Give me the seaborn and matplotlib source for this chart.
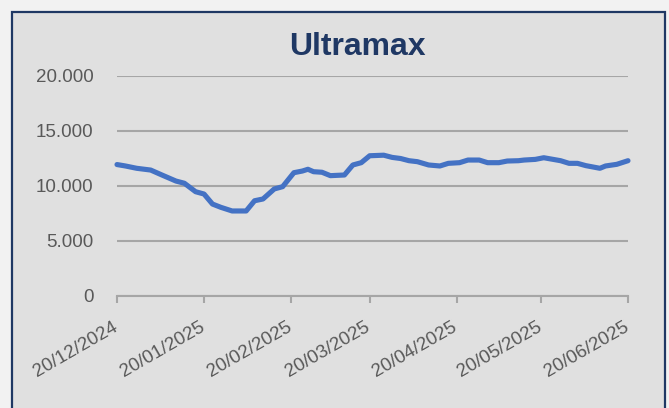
import matplotlib
matplotlib.use("Agg")
import matplotlib.pyplot as plt
from matplotlib.patches import Rectangle
from matplotlib.transforms import ScaledTranslation
import seaborn as sns
import pandas as pd

title = "Ultramax"

dates = [
    "2024-12-20", "2024-12-23", "2024-12-27", "2025-01-01", "2025-01-05",
    "2025-01-10", "2025-01-13", "2025-01-17", "2025-01-20", "2025-01-23",
    "2025-01-26", "2025-01-30", "2025-02-04", "2025-02-07", "2025-02-10",
    "2025-02-14", "2025-02-17", "2025-02-21", "2025-02-24", "2025-02-26",
    "2025-02-28", "2025-03-03", "2025-03-06", "2025-03-11", "2025-03-14",
    "2025-03-17", "2025-03-20", "2025-03-25", "2025-03-28", "2025-03-31",
    "2025-04-03", "2025-04-06", "2025-04-10", "2025-04-14", "2025-04-17",
    "2025-04-21", "2025-04-24", "2025-04-28", "2025-05-01", "2025-05-05",
    "2025-05-08", "2025-05-12", "2025-05-14", "2025-05-18", "2025-05-21",
    "2025-05-27", "2025-05-30", "2025-06-02", "2025-06-05", "2025-06-10",
    "2025-06-12", "2025-06-16", "2025-06-20",
]
values = [
    11950, 11820, 11610, 11450, 11000,
    10450, 10250, 9480, 9270, 8360,
    8060, 7730, 7730, 8660, 8820,
    9730, 9940, 11210, 11360, 11520,
    11300, 11250, 10940, 11000, 11910,
    12120, 12750, 12800, 12600, 12500,
    12300, 12210, 11910, 11820, 12060,
    12120, 12360, 12360, 12120, 12120,
    12270, 12300, 12360, 12420, 12570,
    12300, 12060, 12060, 11850, 11610,
    11820, 11970, 12300,
]
tick_dates = ["2024-12-20", "2025-01-20", "2025-02-20", "2025-03-20",
              "2025-04-20", "2025-05-20", "2025-06-20"]
tick_labels = ["20/12/2024", "20/01/2025", "20/02/2025", "20/03/2025",
               "20/04/2025", "20/05/2025", "20/06/2025"]
y_ticks = [0, 5000, 10000, 15000, 20000]
y_labels = ["0", "5.000", "10.000", "15.000", "20.000"]

df = pd.DataFrame({"date": pd.to_datetime(dates), "value": values})

sns.set_style("white")
plt.rcParams["font.family"] = ["Liberation Sans", "DejaVu Sans"]

W, H = 669, 408
fig = plt.figure(figsize=(W / 100, H / 100), dpi=100)
fig.patch.set_facecolor("#f2f2f2")
fig.patches.append(Rectangle((12 / W, -0.05), (665 - 12) / W, 1.05 - 12 / H,
                             transform=fig.transFigure, facecolor="#e0e0e0",
                             edgecolor="#1f3864", linewidth=1.6, zorder=-10))

ax = fig.add_axes([117 / W, 1 - 296 / H, (628 - 117) / W, (296 - 76) / H])
ax.set_facecolor("none")
ax.patch.set_alpha(0)

sns.lineplot(data=df, x="date", y="value", ax=ax, color="#4472c4",
             linewidth=3.7, solid_capstyle="round", solid_joinstyle="round",
             clip_on=False, zorder=3)

ax.set_xlim(pd.Timestamp(tick_dates[0]), pd.Timestamp(tick_dates[-1]))
ax.set_ylim(0, 20000)
ax.set_yticks(y_ticks)
ax.set_yticklabels(y_labels)
ax.set_xticks(pd.to_datetime(tick_dates))
ax.set_xticklabels(tick_labels, rotation=30, ha="right", va="top",
                   rotation_mode="anchor")
ax.set_xlabel("")
ax.set_ylabel("")

ax.grid(axis="y", color="#a6a6a6", linewidth=1.5)
ax.set_axisbelow(True)
for s in ["left", "right", "top"]:
    ax.spines[s].set_visible(False)
ax.spines["bottom"].set_color("#a6a6a6")
ax.spines["bottom"].set_linewidth(1.5)

ax.tick_params(axis="y", length=0, pad=17, labelsize=13.5, labelcolor="#595959")
ax.tick_params(axis="x", direction="out", length=5, width=1.5, color="#a6a6a6",
               pad=11, labelsize=13.5, labelcolor="#595959", bottom=True)
for lab in ax.get_xticklabels():
    lab.set_transform(lab.get_transform() + ScaledTranslation(-5 / 100, 0, fig.dpi_scale_trans))

fig.text(357 / W, 1 - 55 / H, title, ha="center", va="baseline",
         fontsize=23, fontweight="bold", color="#1f3864")

fig.savefig("out.png", dpi=100, facecolor=fig.get_facecolor())
